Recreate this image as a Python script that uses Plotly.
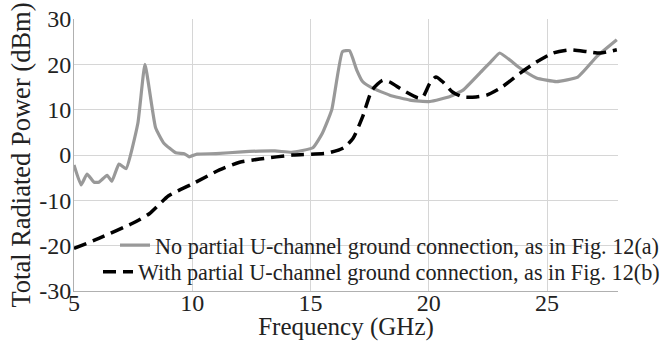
import plotly.graph_objects as go

# Series 1: No partial U-channel ground connection (gray solid)
freq_a = [5.0, 5.3, 5.55, 5.85, 6.05, 6.4, 6.6, 6.9, 7.2, 7.7, 8.0, 8.45, 8.8, 9.3, 9.66, 9.87,
          10.2, 11.0, 12.1, 13.5, 14.2, 15.1, 15.5, 15.9, 16.35, 16.65, 16.95, 17.2, 17.6,
          18.35, 19.2, 20.05, 20.9, 21.45, 22.15, 22.7, 23.0, 23.85, 24.55, 25.4, 26.3, 27.1, 27.95]
power_a = [-2.2, -6.6, -4.2, -6.0, -6.0, -4.5, -5.8, -2.0, -3.0, 7.0, 20.0, 6.0, 2.6, 0.5, 0.3, -0.4,
           0.2, 0.3, 0.7, 0.9, 0.6, 1.6, 4.8, 10.0, 22.8, 23.0, 18.8, 16.2, 14.8,
           13.2, 12.1, 11.8, 12.9, 14.3, 18.0, 21.0, 22.5, 19.2, 17.0, 16.2, 17.2, 21.7, 25.4]

# Series 2: With partial U-channel ground connection (black dashed)
freq_b = [5.0, 6.05, 7.5, 8.2, 9.0, 10.0, 11.15, 12.0, 12.85, 14.25, 15.7, 16.4, 16.8, 17.2, 17.6,
          18.05, 18.35, 18.9, 19.55, 19.75, 20.05, 20.3, 20.6, 21.0, 21.45, 22.0, 22.45, 23.1,
          23.85, 24.55, 25.25, 25.95, 26.7, 27.25, 27.95]
power_b = [-20.6, -18.4, -15.0, -12.9, -9.0, -6.4, -3.3, -1.6, -0.9, 0.0, 0.4, 1.6, 3.7, 8.4, 14.3,
           16.5, 16.1, 14.3, 12.6, 12.8, 15.9, 17.2, 16.1, 13.9, 12.8, 12.8, 13.2, 15.0,
           18.0, 20.5, 22.5, 23.2, 22.8, 22.5, 23.2]

x_ticks = [5, 10, 15, 20, 25]
x_ticklabels = ["5", "10", "15", "20", "25"]
y_ticks = [-30, -20, -10, 0, 10, 20, 30]
y_ticklabels = ["-30", "-20", "-10", "0", "10", "20", "30"]

name_a = "No partial U-channel ground connection, as in Fig. 12(a)"
name_b = "With partial U-channel ground connection, as in Fig. 12(b)"

FONT = "Liberation Serif"
TXT = "#222222"
fig = go.Figure()
fig.add_trace(go.Scatter(x=freq_a, y=power_a, mode="lines", name=name_a,
                         line=dict(color="#999999", width=3.2, shape="spline", smoothing=0.4),
                         legend="legend", showlegend=True))
fig.add_trace(go.Scatter(x=freq_b, y=power_b, mode="lines", name=name_b,
                         line=dict(color="#000000", width=3.5, dash="13px,7px", shape="spline", smoothing=0.6),
                         legend="legend2", showlegend=True))

# white panel behind the legend text (hides grid lines, stays under the curves)
fig.add_shape(type="rect", xref="x", yref="y", x0=5.05, x1=28, y0=-29.8, y1=-15.4,
              fillcolor="white", line=dict(width=0), layer="below")

legend_common = dict(xref="container", yref="container", xanchor="right", yanchor="middle",
                     bgcolor="rgba(0,0,0,0)", borderwidth=0,
                     font=dict(family=FONT, size=22.2, color=TXT),
                     itemwidth=30, tracegroupgap=0, visible=True)
fig.update_layout(
    template="none",
    width=665, height=341,
    margin=dict(l=74, r=47, t=19, b=50, autoexpand=False),
    paper_bgcolor="white", plot_bgcolor="white",
    font=dict(family=FONT, size=24, color=TXT),
    showlegend=True,
    legend=dict(x=1.0, y=0.281, **legend_common),
    legend2=dict(x=1.0, y=0.203, **legend_common),
    xaxis=dict(range=[5, 28], tickvals=x_ticks, ticktext=x_ticklabels, automargin=False,
               showgrid=True, gridcolor="#d6d6d6", gridwidth=1,
               showline=True, linecolor="#b0b0b0", linewidth=1, zeroline=False,
               ticks="", ticklen=0, ticklabelstandoff=-10,
               tickfont=dict(family=FONT, size=24, color=TXT),
               title=dict(text="Frequency (GHz)", standoff=0,
                          font=dict(family=FONT, size=25, color=TXT))),
    yaxis=dict(range=[-30, 30], tickvals=y_ticks, ticktext=y_ticklabels, automargin=False,
               showgrid=True, gridcolor="#d6d6d6", gridwidth=1,
               showline=True, linecolor="#b0b0b0", linewidth=1, zeroline=False,
               ticks="", ticklen=0, ticklabelstandoff=-3,
               tickfont=dict(family=FONT, size=24, color=TXT),
               title=dict(text="Total Radiated Power (dBm)", standoff=0,
                          font=dict(family=FONT, size=26.5, color=TXT))),
)
fig.write_html("out.html")
